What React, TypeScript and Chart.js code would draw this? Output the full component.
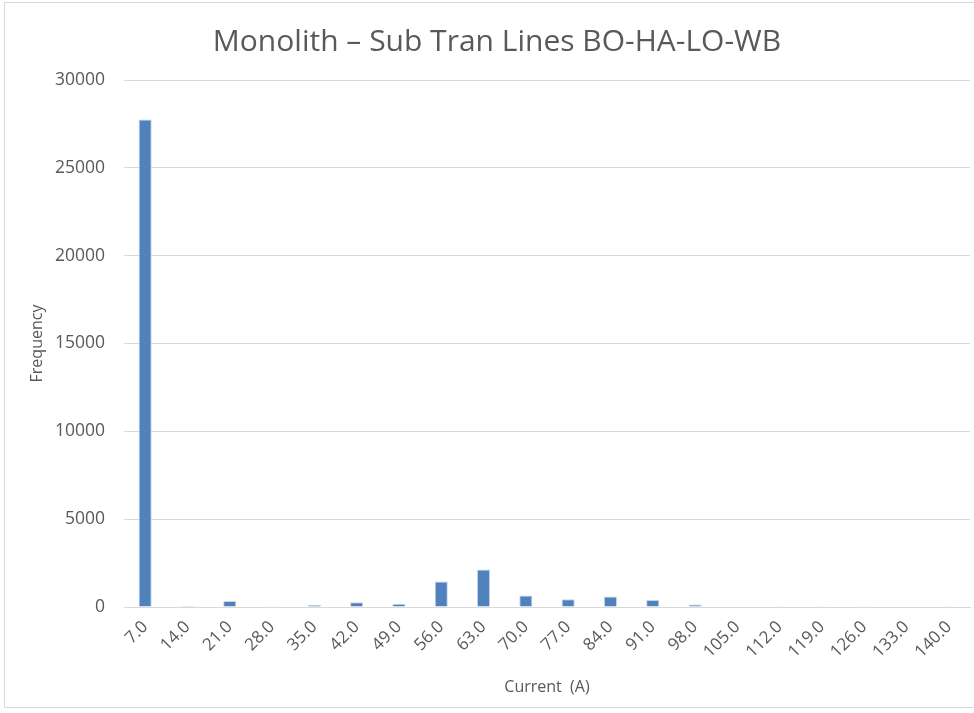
import React, { useEffect, useRef } from "react";
import { Chart, registerables } from "chart.js";

Chart.register(...registerables);

const categories = ["7.0","14.0","21.0","28.0","35.0","42.0","49.0","56.0","63.0","70.0","77.0","84.0","91.0","98.0","105.0","112.0","119.0","126.0","133.0","140.0"];
const frequency = [27750, 50, 340, 20, 110, 270, 190, 1450, 2140, 650, 440, 600, 400, 140, 25, 15, 20, 20, 25, 15];
const yTicks = [0, 5000, 10000, 15000, 20000, 25000, 30000];

const FONT = "'Open Sans', 'Liberation Sans', sans-serif";
const TXT = "#595959";

export default function App() {
  const ref = useRef<HTMLCanvasElement>(null);
  useEffect(() => {
    if (!ref.current) return;
    const chart = new Chart(ref.current, {
      type: "bar",
      data: {
        labels: categories,
        datasets: [{
          label: "Frequency",
          data: frequency,
          backgroundColor: "#4f81bd",
          borderColor: "#c3d3e8",
          borderWidth: 1,
          categoryPercentage: 1,
          barPercentage: 0.31,
        }],
      },
      options: {
        responsive: false,
        animation: false,
        layout: { padding: { left: 24, right: 4, top: 0, bottom: 12 } },
        plugins: {
          legend: { display: false },
          tooltip: { enabled: false },
          title: {
            display: true,
            text: "Monolith – Sub Tran Lines BO-HA-LO-WB",
            color: TXT,
            font: { family: FONT, size: 30, weight: "normal" },
            padding: { top: 24, bottom: 20 },
          },
        },
        scales: {
          x: {
            grid: { display: false, drawTicks: false },
            border: { color: "#d9d9d9", width: 1 },
            ticks: {
              color: TXT,
              font: { family: FONT, size: 17 },
              maxRotation: 45,
              minRotation: 45,
              padding: 10,
              autoSkip: false,
            },
            title: {
              display: true,
              text: "Current  (A)",
              color: TXT,
              font: { family: FONT, size: 16 },
              padding: { top: 4, bottom: 4 },
            },
            afterFit: (s: any) => { s.height = 94; },
          },
          y: {
            min: 0,
            max: 30000,
            afterBuildTicks: (s: any) => { s.ticks = yTicks.map((v) => ({ value: v })); },
            grid: { color: "#d9d9d9", drawTicks: false },
            border: { display: false },
            ticks: {
              color: TXT,
              font: { family: FONT, size: 17.5 },
              padding: 19,
              callback: (v: any) => String(v),
            },
            title: {
              display: true,
              text: "Frequency",
              color: TXT,
              font: { family: FONT, size: 16 },
              padding: { top: 4, bottom: 4 },
            },
            afterFit: (s: any) => { s.width = 100; },
          },
        },
      },
    });
    return () => chart.destroy();
  }, []);
  return (
    <div style={{ position: "fixed", left: 0, top: 0, width: 974, height: 713, background: "#fff" }}>
      <div style={{ position: "absolute", left: 4, top: 2, width: 980, height: 706, border: "1px solid #d9d9d9", boxSizing: "border-box" }} />
      <canvas ref={ref} width={974} height={713} style={{ position: "absolute", left: 0, top: 0 }} />
    </div>
  );
}
